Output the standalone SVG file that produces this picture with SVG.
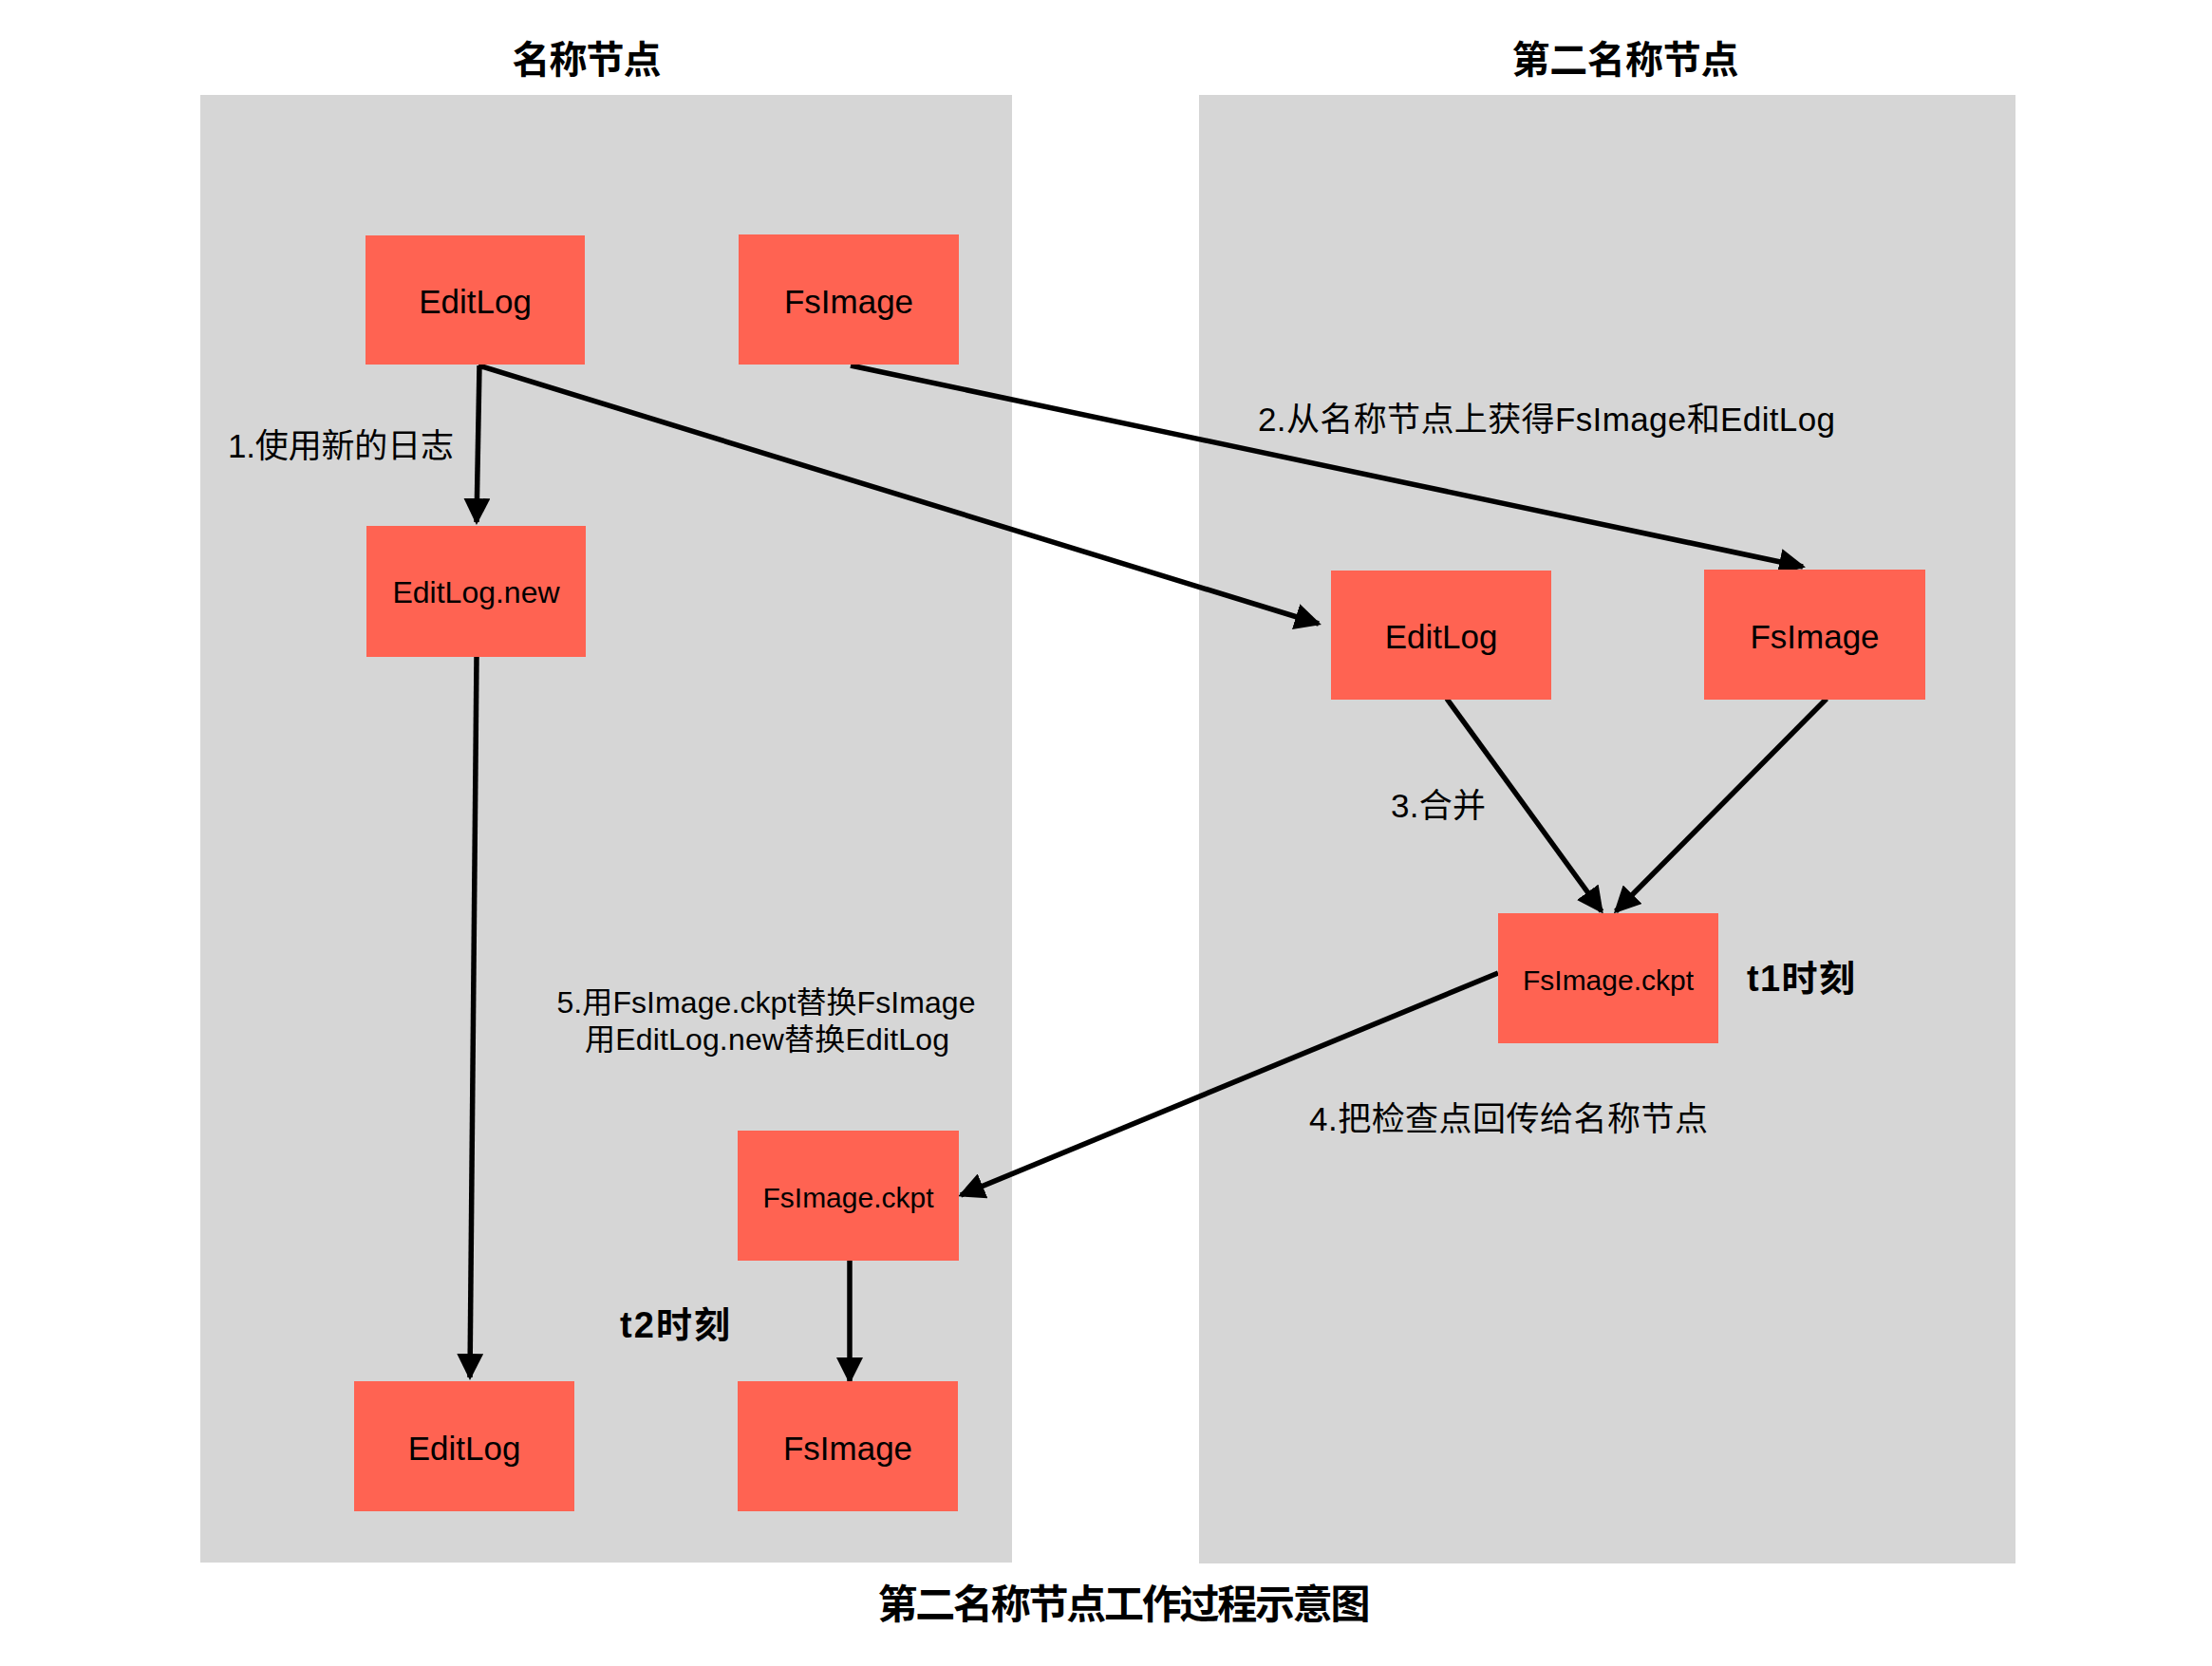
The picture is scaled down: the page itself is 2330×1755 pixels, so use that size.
<svg xmlns="http://www.w3.org/2000/svg" width="2330" height="1755" viewBox="0 0 2330 1755">
<style>
text{font-family:"Liberation Sans","Noto Sans CJK SC",sans-serif;fill:#000;dominant-baseline:central}
.panel{fill:#d6d6d6}
.box{fill:#ff6352}
.bt{font-size:35px;text-anchor:middle}
.bs{font-size:32px;text-anchor:middle}
.bx{font-size:30px;text-anchor:middle}
.lbl{font-size:35px}
.l5{font-size:32px;text-anchor:middle}
.title{font-size:40px;font-weight:bold;text-anchor:middle}
.tm{font-size:38px;font-weight:bold}
.conn line{stroke:#000;stroke-width:5.5;fill:none;marker-end:url(#ah)}
</style>
<defs>
<marker id="ah" markerUnits="userSpaceOnUse" markerWidth="30" markerHeight="28" refX="25" refY="14" orient="auto">
<path d="M0,0 L28,14 L0,28 Z" fill="#000"/>
</marker>
</defs>
<rect width="2330" height="1755" fill="#fff"/>
<g id="panel-namenode">
<rect class="panel" x="211" y="100" width="855" height="1546"/>
<text class="title" x="618" y="63" textLength="157">名称节点</text>
</g>
<g id="panel-secondary">
<rect class="panel" x="1263" y="100" width="860" height="1547"/>
<text class="title" x="1712" y="63" textLength="239">第二名称节点</text>
</g>
<g class="conn" id="connectors">
<line x1="505" y1="385" x2="502" y2="550"/>
<line x1="504" y1="385" x2="1389" y2="657"/>
<line x1="896" y1="385" x2="1899" y2="597"/>
<line x1="1524" y1="736" x2="1687" y2="960"/>
<line x1="1924" y1="736" x2="1702" y2="960"/>
<line x1="1578" y1="1025" x2="1012" y2="1259"/>
<line x1="502" y1="692" x2="495" y2="1451"/>
<line x1="895" y1="1328" x2="895" y2="1455"/>
</g>
<g id="n-editlog-top"><rect class="box" x="385" y="248" width="231" height="136"/><text class="bt" x="500.5" y="317">EditLog</text></g>
<g id="n-fsimage-top"><rect class="box" x="778" y="247" width="232" height="137"/><text class="bt" x="894" y="317">FsImage</text></g>
<g id="n-editlog-new"><rect class="box" x="386" y="554" width="231" height="138"/><text class="bs" x="501.5" y="624">EditLog.new</text></g>
<g id="n-editlog-sec"><rect class="box" x="1402" y="601" width="232" height="136"/><text class="bt" x="1518" y="670">EditLog</text></g>
<g id="n-fsimage-sec"><rect class="box" x="1795" y="600" width="233" height="137"/><text class="bt" x="1911.5" y="670">FsImage</text></g>
<g id="n-ckpt-sec"><rect class="box" x="1578" y="962" width="232" height="137"/><text class="bx" x="1694" y="1032">FsImage.ckpt</text></g>
<g id="n-ckpt-name"><rect class="box" x="777" y="1191" width="233" height="137"/><text class="bx" x="893.5" y="1261">FsImage.ckpt</text></g>
<g id="n-editlog-bottom"><rect class="box" x="373" y="1455" width="232" height="137"/><text class="bt" x="489" y="1525">EditLog</text></g>
<g id="n-fsimage-bottom"><rect class="box" x="777" y="1455" width="232" height="137"/><text class="bt" x="893" y="1525">FsImage</text></g>
<g id="labels">
<text class="lbl" x="240" y="469" textLength="238">1.使用新的日志</text>
<text class="lbl" x="1325" y="441" textLength="608">2.从名称节点上获得FsImage和EditLog</text>
<text class="lbl" x="1465" y="848" textLength="100">3.合并</text>
<text class="lbl" x="1379" y="1178" textLength="420">4.把检查点回传给名称节点</text>
<text class="l5" x="807" y="1056" textLength="441">5.用FsImage.ckpt替换FsImage</text>
<text class="l5" x="808" y="1095" textLength="384">用EditLog.new替换EditLog</text>
<text class="tm" x="1840" y="1031" textLength="114">t1时刻</text>
<text class="tm" x="653" y="1396" textLength="116">t2时刻</text>
<text class="title" x="1184" y="1690" textLength="519" style="font-size:42px">第二名称节点工作过程示意图</text>
</g>
</svg>
